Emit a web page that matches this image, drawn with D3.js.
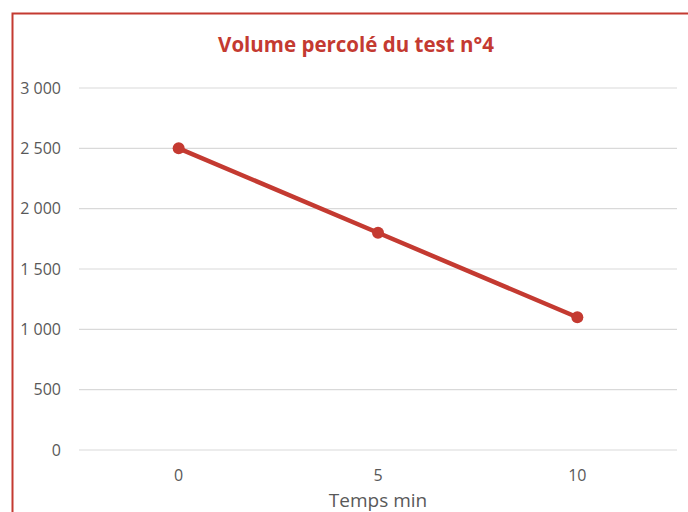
<!DOCTYPE html>
<html lang="fr">
<head>
<meta charset="UTF-8" />
<title>Volume percolé du test n°4</title>
<script src="https://cdn.jsdelivr.net/npm/d3@7"></script>
<style>
  body { margin: 0; background: #fff; }
  text { font-family: "Open Sans", "Liberation Sans", sans-serif; }
</style>
</head>
<body>
<div id="chart"></div>
<script>
// data
var temps = ["0", "5", "10"];
var volume = [2500, 1800, 1100];
var yTicks = [0, 500, 1000, 1500, 2000, 2500, 3000];

var w = 688, h = 512;
var red = "#c43a31";

var svg = d3.select("#chart").append("svg")
    .attr("width", w)
    .attr("height", h);

// chart frame (cut off by the window on right and bottom)
svg.append("rect")
    .attr("x", 12.5).attr("y", 13.5)
    .attr("width", 700).attr("height", 520)
    .attr("fill", "#fff")
    .attr("stroke", red)
    .attr("stroke-width", 2);

var xScale = d3.scaleBand()
    .domain(temps)
    .range([79, 677]);

var yScale = d3.scaleLinear()
    .domain([0, 3000])
    .range([450, 88]);

// gridlines
svg.append("g").selectAll("line")
    .data(yTicks)
    .enter().append("line")
    .attr("x1", 79).attr("x2", 677)
    .attr("y1", function(d) { return yScale(d); })
    .attr("y2", function(d) { return yScale(d); })
    .attr("stroke", "#d9d9d9")
    .attr("stroke-width", 1.2);

var fmt = function(d) { return d3.format(",")(d).replace(/,/g, " "); };

// y axis labels
var yAxis = d3.axisLeft(yScale).tickValues(yTicks).tickFormat(fmt).tickSize(0).tickPadding(0);
var gy = svg.append("g")
    .attr("transform", "translate(61,0)")
    .call(yAxis);
gy.select(".domain").remove();
gy.selectAll("text").attr("fill", "#595959").style("font-size", "16px");

// x axis labels
var xAxis = d3.axisBottom(xScale).tickSize(0).tickPadding(0);
var gx = svg.append("g")
    .attr("transform", "translate(0,470)")
    .call(xAxis);
gx.select(".domain").remove();
gx.selectAll("text").attr("fill", "#595959").style("font-size", "16px");

// axis title
svg.append("text")
    .attr("x", xScale("5") + xScale.bandwidth() / 2)
    .attr("y", 507)
    .attr("text-anchor", "middle")
    .attr("fill", "#595959")
    .style("font-size", "19px")
    .text("Temps min");

// chart title
svg.append("text")
    .attr("x", 356)
    .attr("y", 52)
    .attr("text-anchor", "middle")
    .attr("fill", red)
    .style("font-size", "20.5px")
    .style("font-weight", "bold")
    .text("Volume percolé du test n°4");

var pts = temps.map(function(t, i) { return { t: t, v: volume[i] }; });

var line = d3.line()
    .x(function(d) { return xScale(d.t) + xScale.bandwidth() / 2; })
    .y(function(d) { return yScale(d.v); });

svg.append("path")
    .datum(pts)
    .attr("d", line)
    .attr("fill", "none")
    .attr("stroke", red)
    .attr("stroke-width", 4.5)
    .attr("stroke-linecap", "round");

svg.selectAll("circle.pt")
    .data(pts)
    .enter().append("circle")
    .attr("class", "pt")
    .attr("cx", function(d) { return xScale(d.t) + xScale.bandwidth() / 2; })
    .attr("cy", function(d) { return yScale(d.v); })
    .attr("r", 6)
    .attr("fill", red);
</script>
</body>
</html>
